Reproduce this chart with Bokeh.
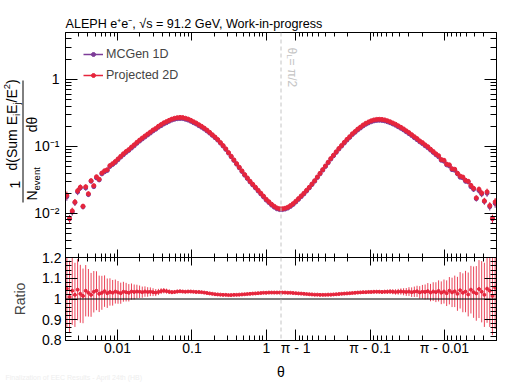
import numpy as np
from bokeh.plotting import figure
from bokeh.models import (ColumnDataSource, FixedTicker, LinearAxis, LogAxis, Span, Label,
                          Legend, LegendItem, Range1d)
from bokeh.layouts import column
from bokeh.embed import file_html
from bokeh.resources import INLINE

# ---------------- data ----------------
theta_min = 0.002
n_side = 80  # log-spaced bins on each side of pi/2

mcgen_left = [
    0.0178, 0.0083, 0.0105, 0.0145, 0.0209, 0.0240, 0.0126, 0.0240, 0.0191, 0.0302,
    0.0251, 0.0339, 0.0316, 0.0389, 0.0417, 0.0437, 0.0501, 0.0537, 0.0575, 0.0631,
    0.0692, 0.0750, 0.0813, 0.0871, 0.0944, 0.102, 0.111, 0.120, 0.129, 0.138,
    0.148, 0.158, 0.170, 0.180, 0.193, 0.204, 0.216, 0.226, 0.237, 0.247,
    0.254, 0.259, 0.261, 0.260, 0.254, 0.247, 0.237, 0.226, 0.216, 0.204,
    0.193, 0.182, 0.170, 0.158, 0.146, 0.135, 0.124, 0.112, 0.101, 0.0902,
    0.0794, 0.0700, 0.0617, 0.0543, 0.0479, 0.0422, 0.0372, 0.0331, 0.0295, 0.0266,
    0.0240, 0.0216, 0.0195, 0.0176, 0.0158, 0.0145, 0.0133, 0.0124, 0.0117, 0.0114,
]
mcgen_right = [
    0.0114, 0.0116, 0.0120, 0.0127, 0.0136, 0.0148, 0.0162, 0.0178, 0.0195, 0.0216,
    0.0240, 0.0269, 0.0302, 0.0343, 0.0389, 0.0442, 0.0501, 0.0569, 0.0646, 0.0724,
    0.0813, 0.0912, 0.101, 0.112, 0.124, 0.136, 0.150, 0.162, 0.176, 0.188,
    0.202, 0.214, 0.224, 0.233, 0.240, 0.244, 0.245, 0.244, 0.240, 0.233,
    0.225, 0.216, 0.207, 0.196, 0.186, 0.176, 0.165, 0.155, 0.145, 0.135,
    0.126, 0.117, 0.110, 0.102, 0.0955, 0.0881, 0.0813, 0.0750, 0.0700, 0.0620,
    0.0600, 0.0530, 0.0510, 0.0450, 0.0440, 0.0389, 0.0347, 0.0339, 0.0302, 0.0295,
    0.0251, 0.0229, 0.0166, 0.0219, 0.0195, 0.0151, 0.0200, 0.0126, 0.0083, 0.0141,
]
ratio_left = [
    1.05, 1.01, 1.04, 1.02, 1.045, 1.025, 1.015, 1.04, 1.03, 1.02,
    1.035, 1.04, 1.025, 1.03, 1.038, 1.028, 1.034, 1.03, 1.036, 1.032,
    1.028, 1.035, 1.033, 1.03, 1.036, 1.034, 1.036, 1.035, 1.033, 1.036,
    1.034, 1.035, 1.033, 1.031, 1.034, 1.038, 1.040, 1.038, 1.035, 1.033,
    1.034, 1.036, 1.037, 1.036, 1.035, 1.036, 1.036, 1.035, 1.034, 1.034,
    1.033, 1.031, 1.029, 1.027, 1.025, 1.023, 1.022, 1.021, 1.020, 1.020,
    1.019, 1.019, 1.020, 1.020, 1.021, 1.022, 1.023, 1.024, 1.025, 1.026,
    1.027, 1.028, 1.029, 1.030, 1.030, 1.031, 1.031, 1.031, 1.031, 1.031,
]
ratio_right = [
    1.031, 1.031, 1.030, 1.030, 1.029, 1.028, 1.027, 1.026, 1.025, 1.024,
    1.023, 1.022, 1.021, 1.021, 1.020, 1.020, 1.020, 1.021, 1.021, 1.022,
    1.023, 1.024, 1.025, 1.026, 1.027, 1.028, 1.029, 1.030, 1.031, 1.032,
    1.033, 1.033, 1.034, 1.034, 1.035, 1.035, 1.035, 1.034, 1.035, 1.035,
    1.036, 1.035, 1.034, 1.035, 1.036, 1.035, 1.034, 1.036, 1.033, 1.035,
    1.037, 1.032, 1.035, 1.034, 1.038, 1.031, 1.036, 1.033, 1.039, 1.030,
    1.036, 1.028, 1.040, 1.032, 1.037, 1.025, 1.042, 1.030, 1.036, 1.022,
    1.045, 1.033, 1.027, 1.048, 1.035, 1.020, 1.050, 1.040, 1.015, 1.055,
]
ratio_err_left = [
    0.19, 0.175, 0.165, 0.155, 0.148, 0.14, 0.132, 0.124, 0.115, 0.106,
    0.10, 0.094, 0.088, 0.082, 0.076, 0.071, 0.066, 0.062, 0.058, 0.055,
    0.051, 0.048, 0.045, 0.042, 0.039, 0.036, 0.033, 0.030, 0.027, 0.025,
    0.023, 0.021, 0.019, 0.017, 0.015, 0.014, 0.013, 0.012, 0.011, 0.010,
    0.009, 0.0085, 0.008, 0.0075, 0.007, 0.007, 0.0065, 0.006, 0.006, 0.006,
    0.0055, 0.0055, 0.005, 0.005, 0.005, 0.005, 0.005, 0.005, 0.005, 0.005,
    0.005, 0.005, 0.005, 0.005, 0.005, 0.005, 0.005, 0.005, 0.005, 0.005,
    0.005, 0.005, 0.005, 0.005, 0.005, 0.005, 0.005, 0.005, 0.005, 0.005,
]
ratio_err_right = [
    0.005, 0.005, 0.005, 0.005, 0.005, 0.005, 0.005, 0.005, 0.005, 0.005,
    0.005, 0.005, 0.005, 0.005, 0.005, 0.005, 0.005, 0.005, 0.005, 0.005,
    0.005, 0.005, 0.005, 0.005, 0.005, 0.005, 0.005, 0.0055, 0.0055, 0.006,
    0.006, 0.006, 0.0065, 0.007, 0.007, 0.0075, 0.008, 0.0085, 0.009, 0.010,
    0.011, 0.012, 0.013, 0.014, 0.015, 0.017, 0.019, 0.021, 0.023, 0.025,
    0.027, 0.030, 0.033, 0.036, 0.039, 0.042, 0.045, 0.048, 0.051, 0.055,
    0.058, 0.062, 0.066, 0.071, 0.076, 0.082, 0.088, 0.094, 0.10, 0.106,
    0.115, 0.124, 0.132, 0.14, 0.148, 0.155, 0.165, 0.175, 0.19, 0.20,
]

series_names = ["MCGen 1D", "Projected 2D"]
x_major_theta = [0.01, 0.1, 1.0, np.pi - 1.0, np.pi - 0.1, np.pi - 0.01]
x_major_labels = ["0.01", "0.1", "1", "π - 1", "π - 0.1", "π - 0.01"]
y_major = [0.01, 0.1, 1.0]
y_major_labels = ["10⁻²", "10⁻¹", "1"]
y_minor = [0.003, 0.004, 0.005, 0.006, 0.007, 0.008, 0.009,
           0.02, 0.03, 0.04, 0.05, 0.06, 0.07, 0.08, 0.09,
           0.2, 0.3, 0.4, 0.5, 0.6, 0.7, 0.8, 0.9, 2.0, 3.0, 4.0]
r_major = [0.8, 0.9, 1.0, 1.1, 1.2]
r_major_labels = ["0.8", "0.9", "1", "1.1", "1.2"]
r_minor = [0.82, 0.84, 0.86, 0.88, 0.92, 0.94, 0.96, 0.98,
           1.02, 1.04, 1.06, 1.08, 1.12, 1.14, 1.16, 1.18]
title_text = "ALEPH e⁺e⁻, √s = 91.2 GeV, Work-in-progress"
footnote = "Finalization of EEC Results - April 24th (HB)"

RED = "#e6253c"
PURPLE = "#7d3c98"
GREY = "#c4c4c4"
FONT = "Liberation Sans"

# ---------------- x mapping: log(theta) | mirrored log(pi - theta) ----------------
half = np.pi / 2


def to_u(t):
    t = np.asarray(t, dtype=float)
    return np.where(t <= half, np.log10(t), 2 * np.log10(half) - np.log10(np.pi - t))


edges = np.logspace(np.log10(theta_min), np.log10(half), n_side + 1)
c_left = np.sqrt(edges[:-1] * edges[1:])
theta = np.concatenate([c_left, np.pi - c_left[::-1]])
u = to_u(theta)
u_half = float(to_u(half))

mcgen = np.array(mcgen_left + mcgen_right)
ratio = np.array(ratio_left + ratio_right)
rerr = np.array(ratio_err_left + ratio_err_right)
proj = mcgen * ratio
rel = rerr / np.sqrt(2)

src = ColumnDataSource(dict(
    u=u, mc=mcgen, pj=proj,
    mc_lo=mcgen * (1 - rel), mc_hi=mcgen * (1 + rel),
    pj_lo=proj * (1 - rel), pj_hi=proj * (1 + rel),
    r=ratio, r_lo=ratio - rerr, r_hi=ratio + rerr,
))

xt_major = [float(v) for v in to_u(x_major_theta)]
minor_theta = []
for d in (-3, -2, -1, 0):
    for k in range(2, 10):
        v = k * 10.0 ** d
        if theta_min < v < half:
            minor_theta += [v, np.pi - v]
xt_minor = [float(v) for v in to_u(minor_theta)]

xr = Range1d(float(to_u(theta_min)), float(to_u(np.pi - theta_min)))


def style_axis(ax, tin, tmin, labels=True, size="14px", standoff=4):
    ax.major_tick_in = tin
    ax.major_tick_out = 0
    ax.minor_tick_in = tmin
    ax.minor_tick_out = 0
    ax.axis_line_color = "black"
    ax.major_tick_line_color = "black"
    ax.minor_tick_line_color = "black"
    if labels:
        ax.major_label_text_font = FONT
        ax.major_label_text_font_size = size
        ax.major_label_text_color = "black"
        ax.major_label_standoff = standoff
    else:
        ax.major_label_text_font_size = "0px"
        ax.major_label_text_color = None
        ax.major_label_standoff = 0


# ---------------- top panel ----------------
p1 = figure(width=529, height=265, x_range=xr, y_range=Range1d(0.0022, 5.0),
            y_axis_type="log", output_backend="svg", toolbar_location=None,
            min_border_left=65, min_border_right=33, min_border_top=32, min_border_bottom=8)
p1.grid.visible = False
p1.outline_line_color = "black"
p1.background_fill_color = "white"
p1.border_fill_alpha = 0

xtick = FixedTicker(ticks=xt_major, minor_ticks=xt_minor)
ytick = FixedTicker(ticks=y_major, minor_ticks=y_minor)

p1.xaxis[0].ticker = xtick
style_axis(p1.xaxis[0], 8, 4, labels=False)
ax_top = LinearAxis(ticker=xtick)
style_axis(ax_top, 8, 4, labels=False)
p1.add_layout(ax_top, "above")

p1.yaxis[0].ticker = ytick
p1.yaxis[0].major_label_overrides = dict(zip(y_major, y_major_labels))
style_axis(p1.yaxis[0], 12, 6, labels=True, size="14px", standoff=6)
ax_r1 = LogAxis(ticker=ytick)
style_axis(ax_r1, 12, 6, labels=False)
p1.add_layout(ax_r1, "right")

p1.segment("u", "mc_lo", "u", "mc_hi", source=src, line_color=PURPLE, line_width=1)
p1.scatter("u", "mc", source=src, marker="circle", size=4, fill_color=PURPLE, line_color=PURPLE)
p1.segment("u", "pj_lo", "u", "pj_hi", source=src, line_color=RED, line_width=1)
p1.scatter("u", "pj", source=src, marker="circle", size=4, fill_color=RED, line_color=RED)

p1.add_layout(Span(location=u_half, dimension="height", line_color=GREY,
                   line_dash="4 3", line_width=1))

# legend (renderers holding one off-range point so that legend glyphs are drawn)
dummy = ColumnDataSource(dict(x=[-50.0, -49.0], y=[1.0, 1.0]))
l1 = p1.line("x", "y", source=dummy, line_color=PURPLE, line_width=1.5)
m1 = p1.scatter("x", "y", source=dummy, marker="circle", size=4, fill_color=PURPLE, line_color=PURPLE)
l2 = p1.line("x", "y", source=dummy, line_color=RED, line_width=1.5)
m2 = p1.scatter("x", "y", source=dummy, marker="circle", size=4, fill_color=RED, line_color=RED)
legend = Legend(items=[LegendItem(label=series_names[0], renderers=[l1, m1]),
                       LegendItem(label=series_names[1], renderers=[l2, m2])],
                location=(18, 175.5), padding=0, margin=0, spacing=7,
                glyph_width=20, glyph_height=10, label_height=10, label_standoff=3,
                border_line_color=None, background_fill_alpha=0,
                label_text_font=FONT, label_text_font_size="12.5px")
p1.add_layout(legend)

# theta_L = pi/2 label (rotated, reading downward)
lab_kw = dict(x=u_half, x_units="data", y_units="screen", angle=-np.pi / 2,
              text_font=FONT, text_color=GREY, text_align="left", text_baseline="alphabetic")
p1.add_layout(Label(y=210, x_offset=11, text="θ", text_font_size="12px", **lab_kw))
p1.add_layout(Label(y=203.3, x_offset=8, text="L", text_font_size="8px", **lab_kw))
p1.add_layout(Label(y=198.9, x_offset=11, text=" = π/2", text_font_size="12px", **lab_kw))

# ---------------- ratio panel ----------------
p2 = figure(width=529, height=135, x_range=xr, y_range=Range1d(0.7995, 1.2005),
            output_backend="svg", toolbar_location=None,
            min_border_left=65, min_border_right=33, min_border_top=8, min_border_bottom=44)
p2.margin = (-16, 0, 0, 0)
p2.grid.visible = False
p2.outline_line_color = "black"
p2.background_fill_color = "white"
p2.border_fill_alpha = 0

p2.xaxis[0].ticker = xtick
p2.xaxis[0].major_label_overrides = dict(zip(xt_major, x_major_labels))
style_axis(p2.xaxis[0], 11, 5, labels=True, size="14px", standoff=-1)
ax_top2 = LinearAxis(ticker=xtick)
style_axis(ax_top2, 8, 4, labels=False)
p2.add_layout(ax_top2, "above")

rtick = FixedTicker(ticks=r_major, minor_ticks=r_minor)
p2.yaxis[0].ticker = rtick
p2.yaxis[0].major_label_overrides = dict(zip(r_major, r_major_labels))
style_axis(p2.yaxis[0], 12, 6, labels=True, size="14px", standoff=4)
p2.yaxis[0].axis_label = "Ratio"
p2.yaxis[0].axis_label_text_font = FONT
p2.yaxis[0].axis_label_text_font_size = "14px"
p2.yaxis[0].axis_label_text_font_style = "normal"
p2.yaxis[0].axis_label_standoff = 11
ax_r2 = LinearAxis(ticker=rtick)
style_axis(ax_r2, 12, 6, labels=False)
p2.add_layout(ax_r2, "right")

p2.segment("u", "r_lo", "u", "r_hi", source=src, line_color=RED, line_width=1, line_alpha=0.85)
p2.scatter("u", "r", source=src, marker="circle", size=3, fill_color=RED, line_color=RED)
p2.add_layout(Span(location=1.0, dimension="width", line_color="black", line_width=1))
p2.add_layout(Span(location=u_half, dimension="height", line_color=GREY,
                   line_dash="4 3", line_width=1))

# ---------------- transparent overlay (separate root) for texts outside the frames --------
# page pixel coordinates: x from the left, y measured up from the page bottom
ov = figure(width=529, height=384, x_range=Range1d(0, 529), y_range=Range1d(0, 384),
            x_axis_location=None, y_axis_location=None, output_backend="svg",
            toolbar_location=None, min_border_left=0, min_border_right=0,
            min_border_top=0, min_border_bottom=0)
ov.margin = (-384, 0, 0, 0)
ov.grid.visible = False
ov.outline_line_color = None
ov.background_fill_alpha = 0
ov.border_fill_alpha = 0

ov.add_layout(Label(x=65, y=361, text=title_text, text_font=FONT, text_font_size="12.6px",
                    text_align="left", text_baseline="middle", text_color="black"))
ov.add_layout(Label(x=280.5, y=13, text="θ", text_font=FONT, text_font_size="14px",
                    text_align="center", text_baseline="middle", text_color="black"))
ov.add_layout(Label(x=5, y=7.5, text=footnote, text_font=FONT, text_font_size="7px",
                    text_align="left", text_baseline="middle", text_color="#eeeeee"))

# y-axis title 1/N_event * d(Sum E_iE_j/E^2)/d theta, rotated, built from centred pieces
yl = dict(angle=np.pi / 2, text_font=FONT, text_color="black",
          text_align="center", text_baseline="middle")
ov.add_layout(Label(x=11, y=241.25, text="d(Sum E", text_font_size="14px", **yl))
ov.add_layout(Label(x=15.6, y=269.55, text="i", text_font_size="9.5px", **yl))
ov.add_layout(Label(x=11, y=275.25, text="E", text_font_size="14px", **yl))
ov.add_layout(Label(x=15.6, y=280.95, text="j", text_font_size="9.5px", **yl))
ov.add_layout(Label(x=11, y=288.6, text="/E", text_font_size="14px", **yl))
ov.add_layout(Label(x=6.6, y=297.85, text="2", text_font_size="9.5px", **yl))
ov.add_layout(Label(x=11, y=302.85, text=")", text_font_size="14px", **yl))
ov.add_layout(Label(x=31, y=260, text="dθ", text_font_size="14px", **yl))
ov.add_layout(Label(x=14, y=200, text="1", text_font_size="14px", **yl))
ov.add_layout(Label(x=31, y=189, text="N", text_font_size="14px", **yl))
ov.add_layout(Label(x=35.6, y=205.7, text="event", text_font_size="9.5px", **yl))
ov.segment(x0=[22.5], y0=[182], x1=[22.5], y1=[304], line_color="black", line_width=1)

layout = column(p1, p2)
open("out.html", "w").write(file_html([layout, ov], INLINE, title="plot"))
